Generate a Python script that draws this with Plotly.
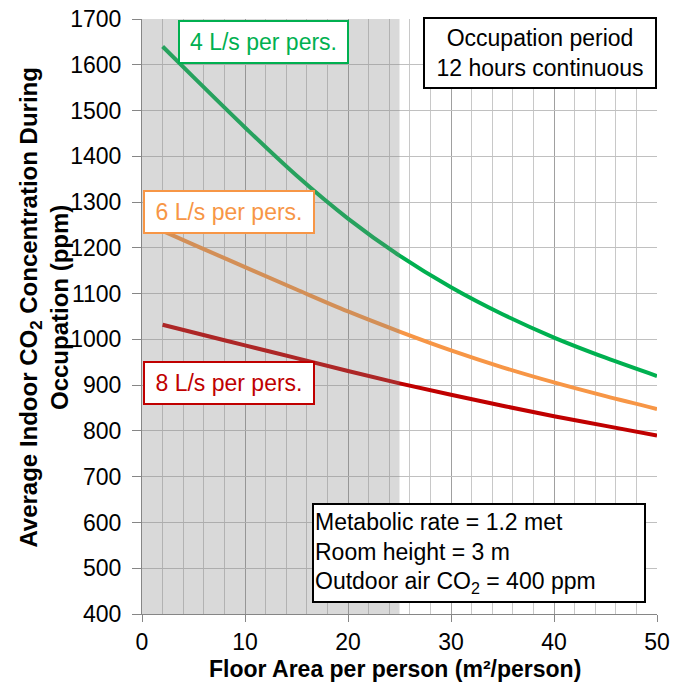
import plotly.graph_objects as go

# Floor area per person (m²/person)
area = [2, 5, 10, 15, 20, 25, 30, 35, 40, 45, 50]
# Average indoor CO2 concentration (ppm)
co2_4ls = [1640, 1573, 1463, 1358, 1264, 1183, 1114, 1055, 1004, 960, 920]
co2_6ls = [1237, 1207, 1158, 1109, 1061, 1017, 976, 939, 906, 876, 848]
co2_8ls = [1032, 1015, 987, 959, 931, 904, 879, 855, 832, 811, 790]

series_names = ["4 L/s per pers.", "6 L/s per pers.", "8 L/s per pers."]
series_colors = ["#00b050", "#f79646", "#c00000"]

FONT = "Liberation Sans, Arial, sans-serif"

fig = go.Figure()
for name, vals, col in zip(series_names, [co2_4ls, co2_6ls, co2_8ls], series_colors):
    fig.add_trace(go.Scatter(x=area, y=vals, mode="lines", name=name,
                             line=dict(color=col, width=4, shape="spline"),
                             showlegend=False))

# shaded zone (drawn above lines, semi-transparent)
fig.add_shape(type="rect", xref="x", yref="y", x0=0, x1=25, y0=400, y1=1700,
              fillcolor="rgba(128,128,128,0.3)", line=dict(width=0), layer="above")

def box(text, x, y, color, w, h, align="center", size=23, yref="y"):
    fig.add_annotation(text=text, x=x, y=y, xref="x", yref=yref,
                       xanchor="left", yanchor="top", showarrow=False,
                       font=dict(family=FONT, size=size, color=color),
                       bgcolor="white", bordercolor=color, borderwidth=2,
                       borderpad=1, width=w, height=h, align=align)

box(series_names[0], 3.5, 1698, series_colors[0], 165, 38)
box(series_names[1], 0.05, 1326, series_colors[1], 166, 38)
box(series_names[2], 0.05, 953, series_colors[2], 166, 38)
box("Occupation period<br>12 hours continuous", 27.3, 1.004, "black", 228, 66, yref="paper")
box("Metabolic rate = 1.2 met<br>Room height = 3 m<br>Outdoor air CO<sub>2</sub> = 400 ppm",
    16.5, 642, "black", 328, 94, align="left")

# axis titles
fig.add_annotation(text="<b>Average Indoor CO<sub>2</sub> Concentration During<br>Occupation (ppm)</b>",
                   xref="paper", yref="paper", x=-0.191, y=0.516, textangle=-90,
                   showarrow=False, xanchor="center", yanchor="middle",
                   font=dict(family=FONT, size=24, color="black"))
fig.add_annotation(text="<b>Floor Area per person (m²/person)</b>",
                   xref="paper", yref="paper", x=0.492, y=-0.092,
                   showarrow=False, xanchor="center", yanchor="middle",
                   font=dict(family=FONT, size=23, color="black"))

fig.update_xaxes(range=[0, 50], dtick=10, tick0=0, showgrid=True,
                 gridcolor="#a0a0a0", gridwidth=1,
                 minor=dict(dtick=2, showgrid=True, gridcolor="#c8c8c8", gridwidth=1),
                 showline=True, linecolor="#868686", linewidth=1,
                 ticks="outside", ticklen=7, tickcolor="#868686",
                 tickfont=dict(family=FONT, size=23, color="black"),
                 ticklabeloverflow="allow",
                 zeroline=False, automargin=False)
fig.update_yaxes(range=[400, 1700], dtick=100, tick0=400, showgrid=True,
                 gridcolor="#c0c0c0", gridwidth=1,
                 showline=True, linecolor="#868686", linewidth=1,
                 ticks="outside", ticklen=9, tickcolor="#868686",
                 ticklabelstandoff=6,
                 tickfont=dict(family=FONT, size=23, color="black"),
                 ticklabeloverflow="allow",
                 zeroline=False, automargin=False)

fig.update_layout(width=673, height=684,
                  margin=dict(l=142, r=16, t=19, b=70),
                  paper_bgcolor="white", plot_bgcolor="white",
                  font=dict(family=FONT))

fig.write_html("out.html", config={"displayModeBar": False},
               post_script="document.body.style.margin='0';document.body.style.overflow='hidden';")
